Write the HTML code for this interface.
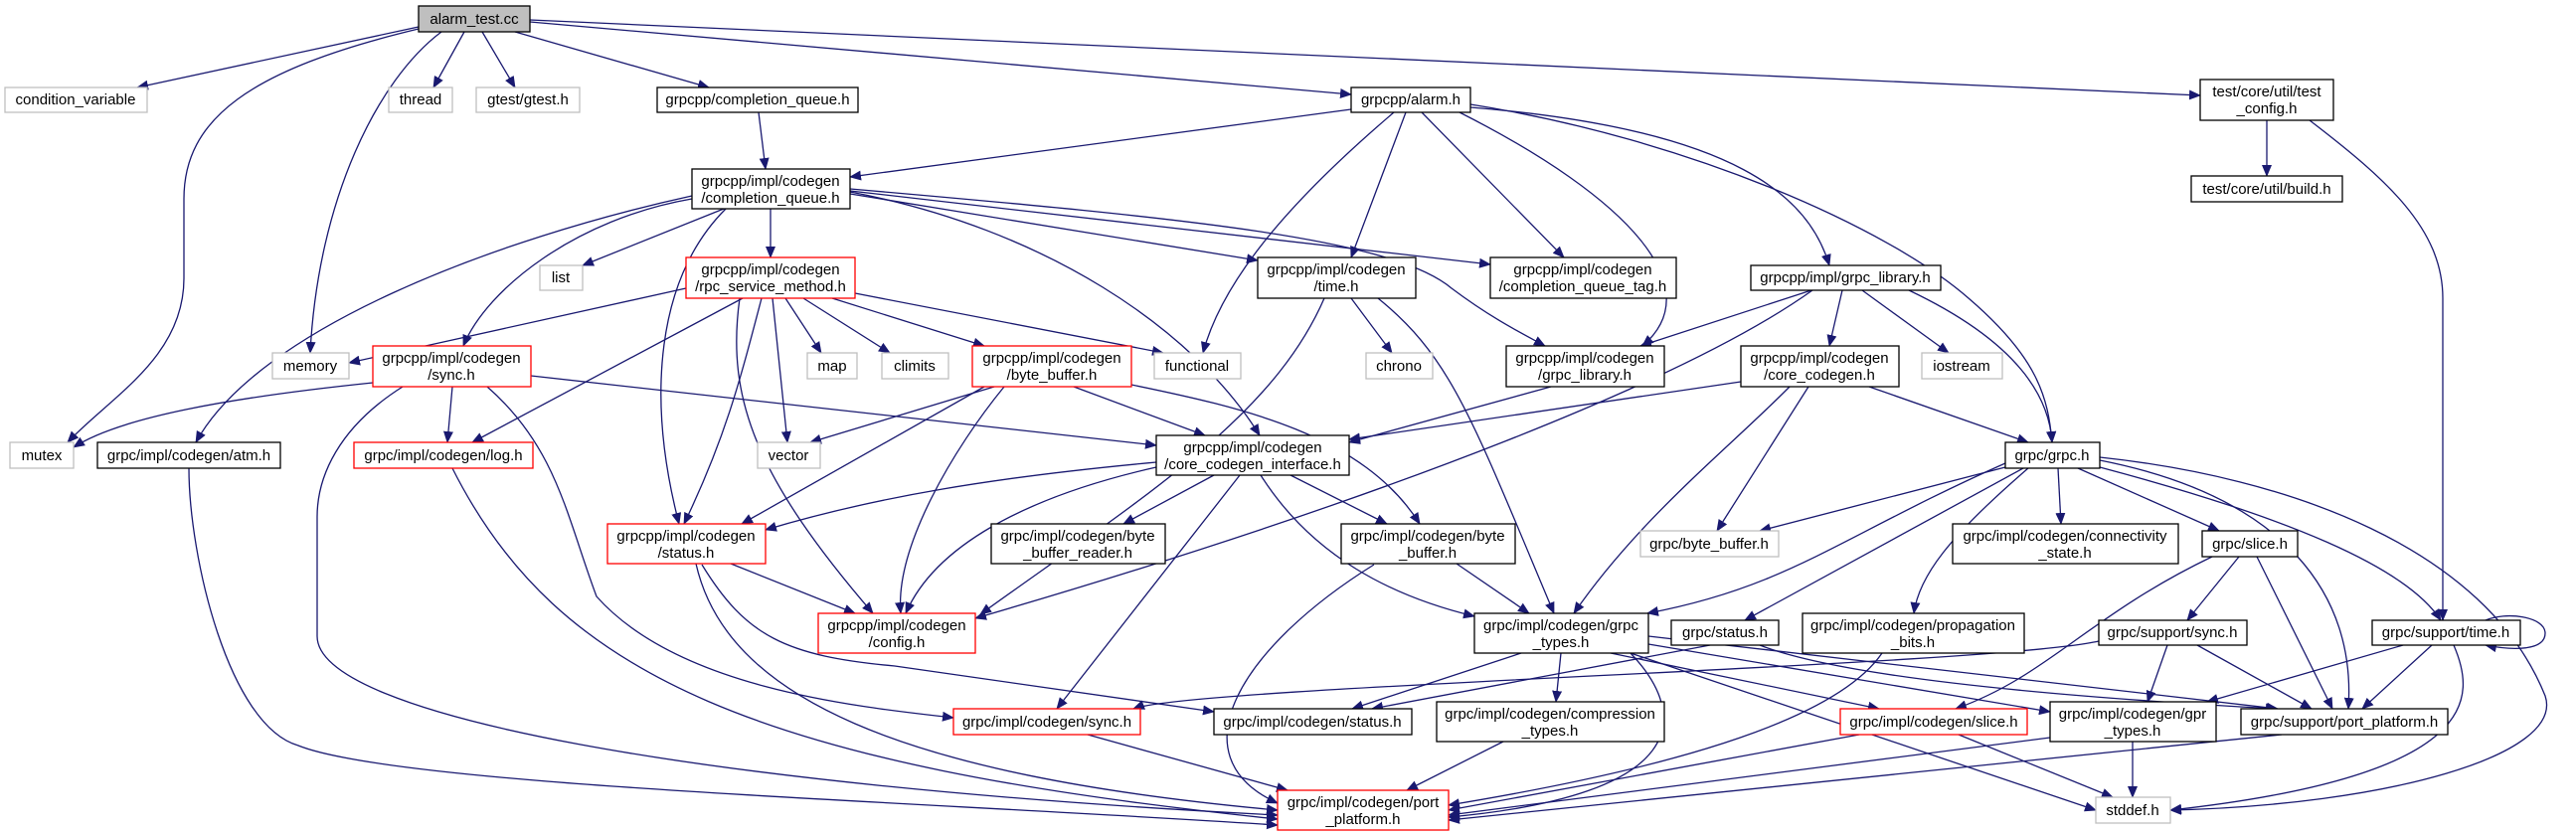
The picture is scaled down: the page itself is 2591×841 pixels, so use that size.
<!DOCTYPE html>
<html><head><meta charset="utf-8"><style>
html,body{margin:0;padding:0;background:#fff;}
svg{display:block;}
text{font-family:"Liberation Sans",sans-serif;font-size:15px;fill:#000;text-anchor:middle;}
.e{fill:none;stroke:#191970;stroke-width:1.3;marker-end:url(#ah);}
.b{fill:#fff;stroke:#000;stroke-width:1.3;}
.g{fill:#fff;stroke:#bfbfbf;stroke-width:1.3;}
.r{fill:#fff;stroke:#ff0000;stroke-width:1.3;}
</style></head><body>
<svg width="2591" height="841" viewBox="0 0 2591 841" xmlns="http://www.w3.org/2000/svg">
<defs><marker id="ah" markerUnits="userSpaceOnUse" markerWidth="12" markerHeight="10" refX="11" refY="5" orient="auto"><path d="M0,0 L12,5 L0,10 z" fill="#191970"/></marker></defs>
<g>
<path class="e" d="M421,27 L138,88"/>
<path class="e" d="M467,32 L436,88"/>
<path class="e" d="M485,32 L518,88"/>
<path class="e" d="M518,32 L713,88"/>
<path class="e" d="M533,22 L1359,95"/>
<path class="e" d="M533,20 L2213,96"/>
<path class="e" d="M421,29 C250,70 185,120 185,200 L185,280 C185,360 110,400 68,445"/>
<path class="e" d="M444,32 C380,80 320,200 312,355"/>
<path class="e" d="M763,113 L770,170"/>
<path class="e" d="M1359,110 L855,178"/>
<path class="e" d="M1414,113 L1359,259"/>
<path class="e" d="M1430,113 L1573,259"/>
<path class="e" d="M1468,113 C1640,200 1720,290 1652,348"/>
<path class="e" d="M1479,108 C1750,130 1820,200 1840,267"/>
<path class="e" d="M1402,113 C1300,200 1230,280 1210,355"/>
<path class="e" d="M1479,105 C1700,140 1900,230 1980,300 C2050,360 2060,400 2064,445"/>
<path class="e" d="M2280,121 L2280,177"/>
<path class="e" d="M2323,121 C2400,180 2457,230 2457,300 L2457,624"/>
<path class="e" d="M728,210 L586,267"/>
<path class="e" d="M775,210 L775,259"/>
<path class="e" d="M696,200 C580,220 490,290 466,348"/>
<path class="e" d="M696,197 C500,240 260,330 197,445"/>
<path class="e" d="M730,210 C660,280 650,400 683,527"/>
<path class="e" d="M855,195 L1265,262"/>
<path class="e" d="M855,192 L1499,266"/>
<path class="e" d="M855,190 C1200,220 1400,240 1460,290 C1500,320 1530,335 1554,348"/>
<path class="e" d="M855,193 C1050,230 1200,330 1267,438"/>
<path class="e" d="M690,290 L351,365"/>
<path class="e" d="M790,300 L826,355"/>
<path class="e" d="M808,300 L895,355"/>
<path class="e" d="M837,300 L990,348"/>
<path class="e" d="M860,295 L1170,355"/>
<path class="e" d="M777,300 L792,445"/>
<path class="e" d="M747,300 L475,445"/>
<path class="e" d="M766,300 C745,380 730,440 688,527"/>
<path class="e" d="M744,300 C730,400 760,480 878,617"/>
<path class="e" d="M1359,300 L1400,355"/>
<path class="e" d="M1332,300 C1280,420 1150,500 986,618"/>
<path class="e" d="M1386,300 C1460,360 1480,420 1563,617"/>
<path class="e" d="M1822,292 L1650,348"/>
<path class="e" d="M1853,292 L1840,348"/>
<path class="e" d="M1873,292 L1960,355"/>
<path class="e" d="M1920,292 C2000,330 2060,380 2064,445"/>
<path class="e" d="M1823,292 C1700,380 1400,500 981,622"/>
<path class="e" d="M1560,389 L1357,445"/>
<path class="e" d="M1751,384 L1357,442"/>
<path class="e" d="M1819,389 L1727,534"/>
<path class="e" d="M1800,389 C1740,450 1650,520 1583,617"/>
<path class="e" d="M1880,389 L2040,445"/>
<path class="e" d="M375,385 C230,400 120,420 74,450"/>
<path class="e" d="M455,389 L450,445"/>
<path class="e" d="M534,378 L1163,448"/>
<path class="e" d="M405,389 C340,430 319,480 319,520 L319,640 C319,720 700,790 1285,820"/>
<path class="e" d="M490,389 C560,450 570,520 600,600 C680,690 850,710 959,722"/>
<path class="e" d="M455,471 C560,680 760,770 1285,824"/>
<path class="e" d="M190,471 C190,560 230,730 300,750 C400,790 900,805 1285,830"/>
<path class="e" d="M1221,478 L1130,527"/>
<path class="e" d="M1298,478 L1395,527"/>
<path class="e" d="M1247,478 L1063,713"/>
<path class="e" d="M1268,478 C1320,560 1400,600 1483,620"/>
<path class="e" d="M1163,465 C1000,480 880,500 770,533"/>
<path class="e" d="M1163,470 C1030,500 940,550 911,617"/>
<path class="e" d="M1000,389 L815,445"/>
<path class="e" d="M1080,389 L1212,438"/>
<path class="e" d="M990,389 L746,527"/>
<path class="e" d="M1010,389 C960,450 900,550 906,617"/>
<path class="e" d="M1138,387 C1250,410 1371,437 1428,527"/>
<path class="e" d="M735,567 L860,617"/>
<path class="e" d="M700,567 C730,700 900,780 1285,815"/>
<path class="e" d="M706,568 C750,640 790,660 900,670 L1221,716"/>
<path class="e" d="M1465,567 L1538,617"/>
<path class="e" d="M1382,568 C1250,650 1180,760 1285,808"/>
<path class="e" d="M2017,470 L1770,534"/>
<path class="e" d="M2070,471 L2073,527"/>
<path class="e" d="M2090,471 L2232,534"/>
<path class="e" d="M2040,471 C1960,540 1930,580 1925,617"/>
<path class="e" d="M2035,471 L1755,624"/>
<path class="e" d="M2017,466 C1850,540 1800,590 1657,617"/>
<path class="e" d="M2112,470 C2300,520 2420,570 2455,624"/>
<path class="e" d="M2112,463 C2300,500 2370,600 2362,713"/>
<path class="e" d="M2112,460 C2300,480 2500,550 2560,700 C2580,760 2400,810 2183,815"/>
<path class="e" d="M1530,657 L1360,713"/>
<path class="e" d="M1570,657 L1565,706"/>
<path class="e" d="M1620,657 L1890,713"/>
<path class="e" d="M1658,648 L2062,716"/>
<path class="e" d="M1640,657 C1700,720 1700,800 1457,822"/>
<path class="e" d="M1640,657 L2108,815"/>
<path class="e" d="M1658,640 L2291,713"/>
<path class="e" d="M1720,649 L1380,713"/>
<path class="e" d="M1770,649 C1850,680 2050,700 2290,713"/>
<path class="e" d="M1893,657 C1850,720 1700,770 1457,810"/>
<path class="e" d="M2225,560 C2100,620 2060,680 1967,713"/>
<path class="e" d="M2252,560 L2200,624"/>
<path class="e" d="M2270,560 L2346,713"/>
<path class="e" d="M2111,645 C2000,670 1200,690 1140,713"/>
<path class="e" d="M2180,649 L2160,706"/>
<path class="e" d="M2210,649 L2325,713"/>
<path class="e" d="M2500,624 C2520,615 2560,620 2560,637 C2560,654 2530,655 2500,649"/>
<path class="e" d="M2417,649 L2220,706"/>
<path class="e" d="M2446,649 L2376,713"/>
<path class="e" d="M2468,649 C2490,700 2500,780 2183,815"/>
<path class="e" d="M1094,739 L1295,795"/>
<path class="e" d="M1512,746 L1415,795"/>
<path class="e" d="M1870,739 L1457,815"/>
<path class="e" d="M1970,739 L2125,802"/>
<path class="e" d="M2062,742 L1457,820"/>
<path class="e" d="M2145,746 L2145,802"/>
<path class="e" d="M2295,739 L1457,825"/>
</g>
<g>
<rect x="421" y="6" width="112" height="26" fill="#bfbfbf" stroke="#000" stroke-width="1.3"/><text x="477" y="24">alarm_test.cc</text>
<rect class="g" x="5" y="88" width="143" height="25"/><text x="76" y="105">condition_variable</text>
<rect class="g" x="391" y="88" width="64" height="25"/><text x="423" y="105">thread</text>
<rect class="g" x="479" y="88" width="104" height="25"/><text x="531" y="105">gtest/gtest.h</text>
<rect class="b" x="661" y="88" width="202" height="25"/><text x="762" y="105">grpcpp/completion_queue.h</text>
<rect class="b" x="1359" y="88" width="120" height="25"/><text x="1419" y="105">grpcpp/alarm.h</text>
<rect class="b" x="2213" y="80" width="134" height="41"/><text x="2280" y="97">test/core/util/test</text><text x="2280" y="114">_config.h</text>
<rect class="b" x="696" y="170" width="159" height="40"/><text x="775" y="187">grpcpp/impl/codegen</text><text x="775" y="204">/completion_queue.h</text>
<rect class="b" x="2204" y="177" width="152" height="26"/><text x="2280" y="195">test/core/util/build.h</text>
<rect class="g" x="543" y="267" width="43" height="25"/><text x="564" y="284">list</text>
<rect class="r" x="690" y="259" width="170" height="41"/><text x="775" y="276">grpcpp/impl/codegen</text><text x="775" y="293">/rpc_service_method.h</text>
<rect class="b" x="1265" y="259" width="159" height="41"/><text x="1344" y="276">grpcpp/impl/codegen</text><text x="1344" y="293">/time.h</text>
<rect class="b" x="1499" y="259" width="187" height="41"/><text x="1592" y="276">grpcpp/impl/codegen</text><text x="1592" y="293">/completion_queue_tag.h</text>
<rect class="b" x="1761" y="267" width="191" height="25"/><text x="1856" y="284">grpcpp/impl/grpc_library.h</text>
<rect class="g" x="274" y="355" width="77" height="26"/><text x="312" y="373">memory</text>
<rect class="r" x="375" y="348" width="159" height="41"/><text x="454" y="365">grpcpp/impl/codegen</text><text x="454" y="382">/sync.h</text>
<rect class="g" x="812" y="355" width="50" height="26"/><text x="837" y="373">map</text>
<rect class="g" x="887" y="355" width="67" height="26"/><text x="920" y="373">climits</text>
<rect class="r" x="978" y="348" width="160" height="41"/><text x="1058" y="365">grpcpp/impl/codegen</text><text x="1058" y="382">/byte_buffer.h</text>
<rect class="g" x="1161" y="355" width="87" height="26"/><text x="1204" y="373">functional</text>
<rect class="g" x="1374" y="355" width="67" height="26"/><text x="1407" y="373">chrono</text>
<rect class="b" x="1515" y="348" width="159" height="41"/><text x="1594" y="365">grpcpp/impl/codegen</text><text x="1594" y="382">/grpc_library.h</text>
<rect class="b" x="1751" y="348" width="159" height="41"/><text x="1830" y="365">grpcpp/impl/codegen</text><text x="1830" y="382">/core_codegen.h</text>
<rect class="g" x="1933" y="355" width="81" height="26"/><text x="1973" y="373">iostream</text>
<rect class="g" x="10" y="445" width="64" height="26"/><text x="42" y="463">mutex</text>
<rect class="b" x="98" y="445" width="184" height="26"/><text x="190" y="463">grpc/impl/codegen/atm.h</text>
<rect class="r" x="356" y="445" width="180" height="26"/><text x="446" y="463">grpc/impl/codegen/log.h</text>
<rect class="g" x="762" y="445" width="63" height="26"/><text x="793" y="463">vector</text>
<rect class="b" x="1163" y="438" width="194" height="40"/><text x="1260" y="455">grpcpp/impl/codegen</text><text x="1260" y="472">/core_codegen_interface.h</text>
<rect class="b" x="2017" y="445" width="95" height="26"/><text x="2064" y="463">grpc/grpc.h</text>
<rect class="r" x="611" y="527" width="159" height="40"/><text x="690" y="544">grpcpp/impl/codegen</text><text x="690" y="561">/status.h</text>
<rect class="b" x="997" y="527" width="175" height="40"/><text x="1084" y="544">grpc/impl/codegen/byte</text><text x="1084" y="561">_buffer_reader.h</text>
<rect class="b" x="1349" y="527" width="175" height="40"/><text x="1436" y="544">grpc/impl/codegen/byte</text><text x="1436" y="561">_buffer.h</text>
<rect class="g" x="1650" y="534" width="139" height="26"/><text x="1719" y="552">grpc/byte_buffer.h</text>
<rect class="b" x="1964" y="527" width="227" height="40"/><text x="2077" y="544">grpc/impl/codegen/connectivity</text><text x="2077" y="561">_state.h</text>
<rect class="b" x="2215" y="534" width="96" height="26"/><text x="2263" y="552">grpc/slice.h</text>
<rect class="r" x="823" y="617" width="158" height="40"/><text x="902" y="634">grpcpp/impl/codegen</text><text x="902" y="651">/config.h</text>
<rect class="b" x="1483" y="617" width="175" height="40"/><text x="1570" y="634">grpc/impl/codegen/grpc</text><text x="1570" y="651">_types.h</text>
<rect class="b" x="1681" y="624" width="108" height="25"/><text x="1735" y="641">grpc/status.h</text>
<rect class="b" x="1813" y="617" width="223" height="40"/><text x="1924" y="634">grpc/impl/codegen/propagation</text><text x="1924" y="651">_bits.h</text>
<rect class="b" x="2111" y="624" width="149" height="25"/><text x="2185" y="641">grpc/support/sync.h</text>
<rect class="b" x="2386" y="624" width="149" height="25"/><text x="2460" y="641">grpc/support/time.h</text>
<rect class="r" x="959" y="713" width="188" height="26"/><text x="1053" y="731">grpc/impl/codegen/sync.h</text>
<rect class="b" x="1221" y="713" width="199" height="26"/><text x="1320" y="731">grpc/impl/codegen/status.h</text>
<rect class="b" x="1445" y="706" width="229" height="40"/><text x="1559" y="723">grpc/impl/codegen/compression</text><text x="1559" y="740">_types.h</text>
<rect class="r" x="1851" y="713" width="188" height="26"/><text x="1945" y="731">grpc/impl/codegen/slice.h</text>
<rect class="b" x="2062" y="706" width="167" height="40"/><text x="2145" y="723">grpc/impl/codegen/gpr</text><text x="2145" y="740">_types.h</text>
<rect class="b" x="2254" y="713" width="208" height="26"/><text x="2358" y="731">grpc/support/port_platform.h</text>
<rect class="r" x="1285" y="795" width="172" height="40"/><text x="1371" y="812">grpc/impl/codegen/port</text><text x="1371" y="829">_platform.h</text>
<rect class="g" x="2108" y="802" width="75" height="26"/><text x="2145" y="820">stddef.h</text>
</g>
</svg>
</body></html>
